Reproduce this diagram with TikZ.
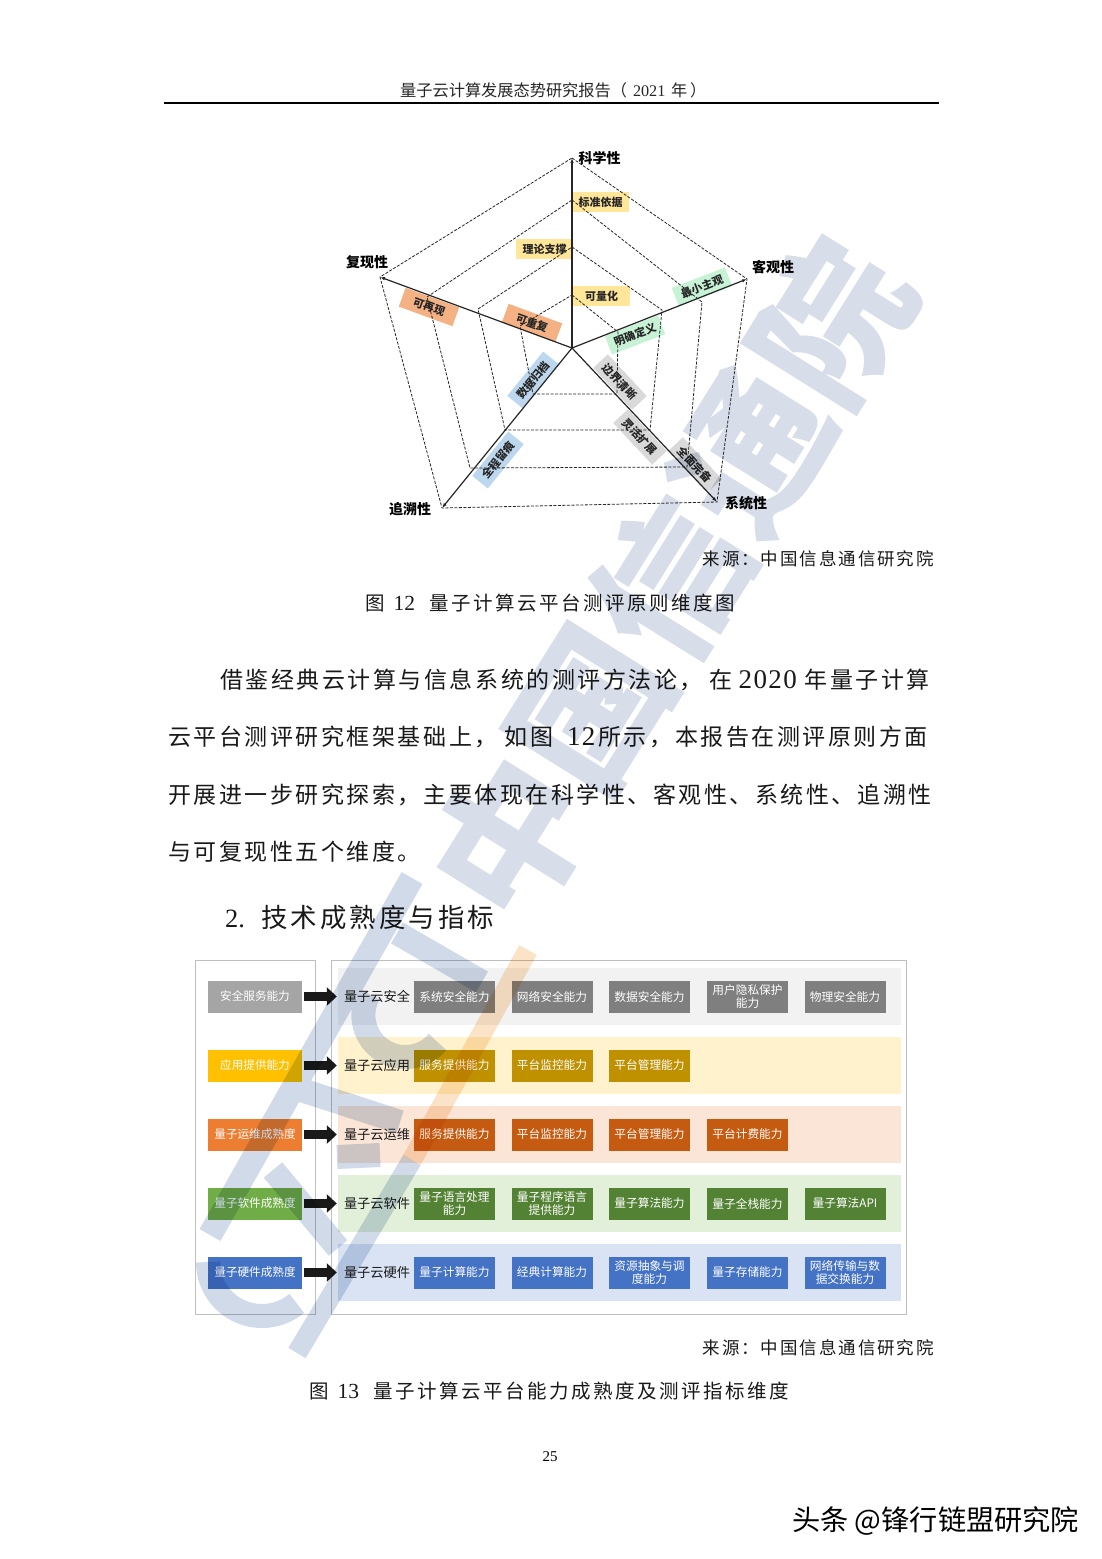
\documentclass[tikz,border=0pt]{standalone}
\usepackage{fontspec}
\usepackage{tikz}
\usetikzlibrary{arrows.meta}
\setmainfont{Noto Sans CJK SC}
\newfontfamily\numfam{Liberation Serif}
\newfontfamily\numwide[LetterSpace=5]{Liberation Serif}
\newfontfamily\bodyfam[LetterSpace=11]{Noto Sans CJK SC}
\newfontfamily\capfam[LetterSpace=13]{Noto Sans CJK SC}
\newfontfamily\srcfam[LetterSpace=11]{Noto Sans CJK SC}
\newfontfamily\headfam[LetterSpace=12]{Noto Sans CJK SC}
\newcommand{\bodynum}[1]{{\numwide\fontsize{27}{27}\selectfont #1}}
\newcommand{\capnum}[1]{{\numfam\fontsize{21.5}{22}\selectfont #1}}
\definecolor{lineC}{HTML}{BFBFBF}
\definecolor{markC}{HTML}{D7DDE9}
\definecolor{logoC}{HTML}{D0DAE9}
\definecolor{slashC}{HTML}{FBE3C8}
\definecolor{chipY}{HTML}{FFE699}
\definecolor{chipO}{HTML}{F4B183}
\definecolor{chipG}{HTML}{C8F2D6}
\definecolor{chipK}{HTML}{D9D9D9}
\definecolor{chipB}{HTML}{BDD7EE}
\tikzset{
	ring/.style={dashed, dash pattern=on 3pt off 1.5pt, line width=0.8pt, black!85},
	axis/.style={line width=1.2pt, black!85, -{Latex[length=5pt,width=3.5pt]}},
	dimlabel/.style={font=\bfseries\fontsize{14}{16}\selectfont, inner sep=0pt},
	chip/.style={minimum width=57pt, minimum height=20pt, inner sep=0pt, font=\bfseries\fontsize{11}{13}\selectfont, text=black!85},
	leftbox/.style={minimum width=94pt, minimum height=32pt, inner sep=0pt, text=white, font=\fontsize{11.6}{13}\selectfont},
	capbox/.style={minimum width=81pt, minimum height=32pt, inner sep=0pt, text=white, align=center, font=\fontsize{11.7}{12.5}\selectfont},
	rowlabel/.style={inner sep=0pt, text=black!90, font=\fontsize{13.2}{15}\selectfont},
	band/.style={minimum width=563pt, minimum height=57pt, inner sep=0pt},
	frame/.style={draw=lineC, line width=0.8pt},
	blockarrow/.style={line width=9pt, black!90, -{Triangle[length=10pt,width=18pt]}, shorten <=2pt, shorten >=7pt},
	bodyline/.style={anchor=west, inner sep=0pt, text=black!90, font=\bodyfam\fontsize{23}{27}\selectfont},
	capline/.style={anchor=west, inner sep=0pt, text=black!90, font=\capfam\fontsize{19.5}{22}\selectfont},
	srcline/.style={anchor=east, inner sep=0pt, text=black!90, font=\srcfam\fontsize{17.5}{20}\selectfont},
}
\begin{document}
\begin{tikzpicture}[x=1pt, y=-1pt]
	\useasboundingbox (0,0) rectangle (1102,1559);
	\fill[white] (0,0) rectangle (1102,1559);
	% page head
	\node[inner sep=0pt, anchor=west, text=black!85, font=\fontsize{16.2}{18}\selectfont] (head) at (400,90) {量子云计算发展态势研究报告（\hspace{6pt}{\numfam 2021}\hspace{2pt} 年\hspace{3pt}）};
	\coordinate (ruleL) at (164,102.5);
	\coordinate (ruleR) at (939,102.5);
	\draw[line width=2pt] (ruleL) -- (ruleR);
	% radar corners
	\coordinate (o) at (572,348);
	\coordinate (a1) at (572,158);
	\coordinate (a2) at (747,279);
	\coordinate (a3) at (717,502);
	\coordinate (a4) at (442,508);
	\coordinate (a5) at (380,277);
	\coordinate (b1) at (572,200);
	\coordinate (b2) at (702,302);
	\coordinate (b3) at (687,467);
	\coordinate (b4) at (470,468);
	\coordinate (b5) at (427,297);
	\coordinate (c1) at (572,247);
	\coordinate (c2) at (662,310);
	\coordinate (c3) at (650,430);
	\coordinate (c4) at (505,430);
	\coordinate (c5) at (478,309);
	\coordinate (d1) at (572,295);
	\coordinate (d2) at (618,332);
	\coordinate (d3) at (617,394);
	\coordinate (d4) at (533,394);
	\coordinate (d5) at (520,326);
	% chips go under the lines
	\node[chip, fill=chipY] (std) at (600.5,202) {标准依据};
	\node[chip, fill=chipY] (theory) at (544.5,249) {理论支撑};
	\node[chip, fill=chipY] (quant) at (601.5,296) {可量化};
	\node[chip, fill=chipO, rotate=-20] (again) at (429,307) {可再现};
	\node[chip, fill=chipO, rotate=-20] (repeat) at (532,323) {可重复};
	\node[chip, fill=chipG, rotate=21] (subj) at (702,287) {最小主观};
	\node[chip, fill=chipG, rotate=21] (clear) at (635,335) {明确定义};
	\node[chip, fill=chipK, rotate=-47] (bound) at (620,382) {边界清晰};
	\node[chip, fill=chipK, rotate=-47] (flex) at (640,437) {灵活扩展};
	\node[chip, fill=chipK, rotate=-47] (full) at (695,465) {全面完备};
	\node[chip, fill=chipB, rotate=51] (arch) at (533,380) {数据归档};
	\node[chip, fill=chipB, rotate=51] (trace) at (498,460) {全程留痕};
	\draw[ring] (a1) -- (a2) -- (a3) -- (a4) -- (a5) -- cycle;
	\draw[ring] (b1) -- (b2) -- (b3) -- (b4) -- (b5) -- cycle;
	\draw[ring] (c1) -- (c2) -- (c3) -- (c4) -- (c5) -- cycle;
	\draw[ring] (d1) -- (d2) -- (d3) -- (d4) -- (d5) -- cycle;
	\draw[axis] (o) -- (a1);
	\draw[axis] (o) -- (a2);
	\draw[axis] (o) -- (a3);
	\draw[axis] (o) -- (a4);
	\draw[axis] (o) -- (a5);
	\node[dimlabel] (sci) at (599.5,158) {科学性};
	\node[dimlabel] (obj) at (773,267) {客观性};
	\node[dimlabel] (sys) at (746,503) {系统性};
	\node[dimlabel] (back) at (410,509) {追溯性};
	\node[dimlabel] (redo) at (367,262) {复现性};
	\node[srcline] (src1) at (934,559) {来源：中国信息通信研究院};
	\node[capline] (fig1) at (365,603) {图\hspace{9pt}\capnum{12}\hspace{14pt}量子计算云平台测评原则维度图};
	% body text
	\node[bodyline] (p1) at (220,680) {借鉴经典云计算与信息系统的测评方法论，\hspace{7pt}在\hspace{6pt}\bodynum{2020}\hspace{8pt}年量子计算};
	\node[bodyline] (p2) at (168,737) {云平台测评研究框架基础上，\hspace{7pt}如图\hspace{14pt}\bodynum{12}\hspace{3pt}所示，本报告在测评原则方面};
	\node[bodyline] (p3) at (168,795) {开展进一步研究探索，主要体现在科学性、客观性、系统性、追溯性};
	\node[bodyline] (p4) at (168,852) {与可复现性五个维度。};
	\node[anchor=west, inner sep=0pt, text=black!90, font=\headfam\fontsize{26.4}{30}\selectfont] (sect) at (225,917) {{\numfam 2.}\hspace{16pt}技术成熟度与指标};
	% frames and bands
	\draw[frame] (195.5,960.5) rectangle (315.5,1314);
	\draw[frame] (331,960.5) rectangle (906,1314);
	\node[band, fill={rgb,255:red,242;green,242;blue,242}] (band1) at (619.5,996.5) {};
	\node[band, fill={rgb,255:red,255;green,242;blue,204}] (band2) at (619.5,1065.5) {};
	\node[band, fill={rgb,255:red,251;green,229;blue,214}] (band3) at (619.5,1134.5) {};
	\node[band, fill={rgb,255:red,226;green,240;blue,217}] (band4) at (619.5,1203.5) {};
	\node[band, fill={rgb,255:red,218;green,227;blue,243}] (band5) at (619.5,1272.5) {};
	% left column
	\node[leftbox, fill={rgb,255:red,165;green,165;blue,165}] (left1) at (255,996.5) {安全服务能力};
	\node[leftbox, fill={rgb,255:red,255;green,192;blue,0}] (left2) at (255,1065.5) {应用提供能力};
	\node[leftbox, fill={rgb,255:red,237;green,125;blue,49}] (left3) at (255,1134.5) {量子运维成熟度};
	\node[leftbox, fill={rgb,255:red,112;green,173;blue,71}] (left4) at (255,1203.5) {量子软件成熟度};
	\node[leftbox, fill={rgb,255:red,68;green,114;blue,196}] (left5) at (255,1272.5) {量子硬件成熟度};
	% row names
	\node[rowlabel] (row1) at (377,996.5) {量子云安全};
	\node[rowlabel] (row2) at (377,1065.5) {量子云应用};
	\node[rowlabel] (row3) at (377,1134.5) {量子云运维};
	\node[rowlabel] (row4) at (377,1203.5) {量子云软件};
	\node[rowlabel] (row5) at (377,1272.5) {量子云硬件};
	\draw[blockarrow] (left1) -- (row1);
	\draw[blockarrow] (left2) -- (row2);
	\draw[blockarrow] (left3) -- (row3);
	\draw[blockarrow] (left4) -- (row4);
	\draw[blockarrow] (left5) -- (row5);
	% capability boxes
	\tikzset{
		capK/.style={capbox, fill={rgb,255:red,127;green,127;blue,127}},
		capY/.style={capbox, fill={rgb,255:red,191;green,144;blue,0}},
		capO/.style={capbox, fill={rgb,255:red,197;green,90;blue,17}},
		capG/.style={capbox, fill={rgb,255:red,84;green,130;blue,53}},
		capB/.style={capbox, fill={rgb,255:red,68;green,114;blue,196}},
	}
	\node[capK] (s1) at (454.5,996.5) {系统安全能力};
	\node[capK] (s2) at (552,996.5) {网络安全能力};
	\node[capK] (s3) at (649.5,996.5) {数据安全能力};
	\node[capK] (s4) at (747.5,996.5) {用户隐私保护\\能力};
	\node[capK] (s5) at (845,996.5) {物理安全能力};
	\node[capY] (y1) at (454.5,1065.5) {服务提供能力};
	\node[capY] (y2) at (552,1065.5) {平台监控能力};
	\node[capY] (y3) at (649.5,1065.5) {平台管理能力};
	\node[capO] (o1) at (454.5,1134.5) {服务提供能力};
	\node[capO] (o2) at (552,1134.5) {平台监控能力};
	\node[capO] (o3) at (649.5,1134.5) {平台管理能力};
	\node[capO] (o4) at (747.5,1134.5) {平台计费能力};
	\node[capG] (g1) at (454.5,1203.5) {量子语言处理\\能力};
	\node[capG] (g2) at (552,1203.5) {量子程序语言\\提供能力};
	\node[capG] (g3) at (649.5,1203.5) {量子算法能力};
	\node[capG] (g4) at (747.5,1203.5) {量子全栈能力};
	\node[capG] (g5) at (845,1203.5) {量子算法API};
	\node[capB] (h1) at (454.5,1272.5) {量子计算能力};
	\node[capB] (h2) at (552,1272.5) {经典计算能力};
	\node[capB] (h3) at (649.5,1272.5) {资源抽象与调\\度能力};
	\node[capB] (h4) at (747.5,1272.5) {量子存储能力};
	\node[capB] (h5) at (845,1272.5) {网络传输与数\\据交换能力};
	% foot
	\node[srcline] (src2) at (934,1348) {来源：中国信息通信研究院};
	\node[capline] (fig2) at (309,1391) {图\hspace{9pt}\capnum{13}\hspace{14pt}量子计算云平台能力成熟度及测评指标维度};
	\node[inner sep=0pt, font=\numfam\fontsize{15}{17}\selectfont] (pageno) at (550,1457) {25};
	\node[inner sep=0pt, anchor=west, font=\fontsize{28.2}{30}\selectfont] (byline) at (792,1521) {头条 @锋行链盟研究院};
	% watermark
	\begin{scope}[blend mode=multiply]
		\node[inner sep=0pt, rotate=58, text=markC, font=\bfseries\fontsize{152}{160}\selectfont] (mark) at (670,580) {中国信通院};
		\draw[line width=24pt, logoC, line cap=butt]
			(412,878) -- (210,1235)
			(292,1087) -- (400,1122)
			(273,1170) -- (338,1248)
			(337,1157) -- (380,1155)
			(397,933) -- (482,982)
			(369,994) arc[start angle=150, end angle=320, radius=42pt]
			(208,1262) arc[start angle=180, end angle=310, radius=54pt];
		\coordinate (sl1) at (297,1353);
		\coordinate (sl2) at (412,1160);
		\coordinate (sl3) at (528,950);
		\draw[line width=20pt, logoC] (sl1) -- (sl2);
		\draw[line width=20pt, slashC] (sl2) -- (sl3);
	\end{scope}
\end{tikzpicture}
\end{document}
